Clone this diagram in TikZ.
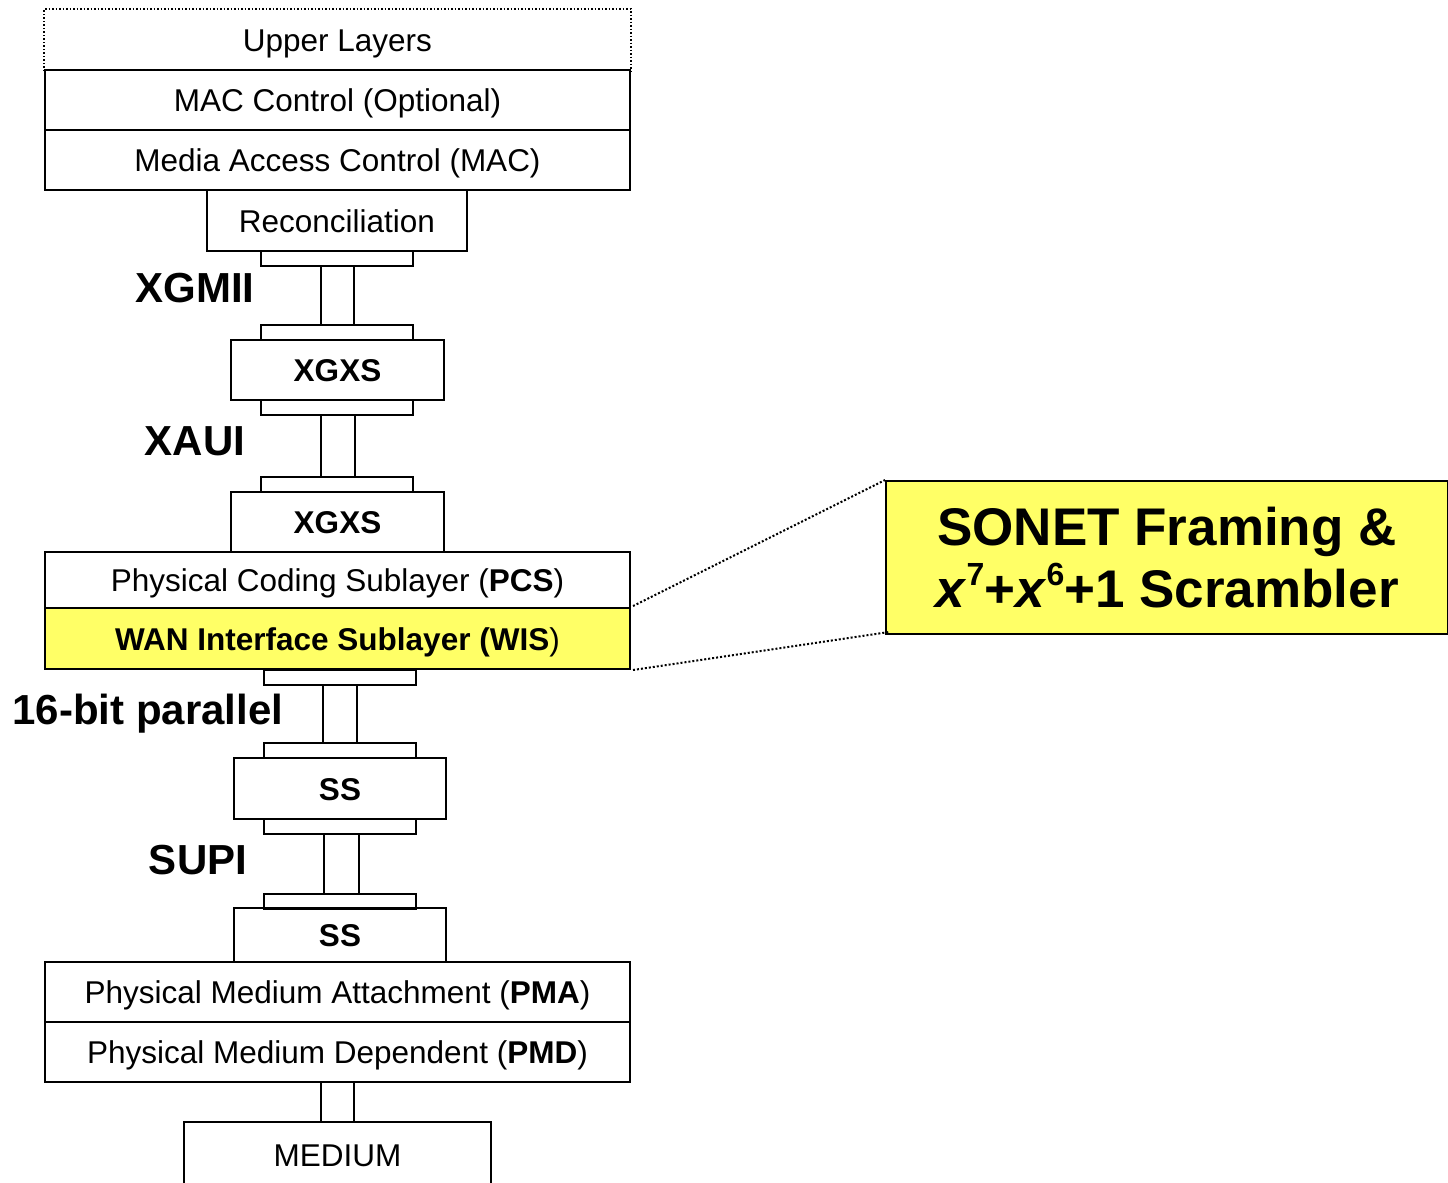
\documentclass[tikz,border=0pt]{standalone}
\usepackage{fontspec}
\setmainfont{Liberation Sans}
\usetikzlibrary{calc}
\definecolor{wisyellow}{RGB}{255,255,102}
\newcommand{\supnum}[1]{\raisebox{22pt}{\bfseries\fontsize{32pt}{32pt}\selectfont #1}}
\begin{document}
\begin{tikzpicture}[x=1pt,y=-1pt,
  box/.style={draw, line width=2pt, rectangle, inner sep=0pt, anchor=center,
    text height=23pt, text depth=0pt,
    font=\fontsize{31.5pt}{36pt}\selectfont},
  layer/.style={box, minimum width=585pt, minimum height=60pt},
  unit/.style={box, minimum width=213pt, minimum height=60pt, font=\bfseries\fontsize{31.5pt}{36pt}\selectfont},
  tab/.style={draw, line width=2pt, rectangle, inner sep=0pt, minimum width=152pt, minimum height=15pt},
  link/.style={line width=2pt},
  iface/.style={font=\bfseries\fontsize{42pt}{48pt}\selectfont, inner sep=0pt},
  zoomline/.style={dotted, line width=2pt},
]
\clip (0,0) rectangle (1448,1183);

% upper part of the stack
\node[layer, draw=none] (upper) at (337.5,40) {Upper Layers};
\draw[dotted, line width=1.5pt] (upper.south west) -- (upper.north west) -- (upper.north east) -- (upper.south east);
\node[layer] (macctl) at (337.5,100) {MAC Control (Optional)};
\node[layer] (mac) at (337.5,160) {Media Access Control (MAC)};
\node[box, minimum width=260pt, minimum height=61pt] (recon) at (337,220.5) {Reconciliation};

% XGMII
\node[tab] (t1) at (337,258.5) {};
\node[tab] (t2) at (337,332) {};
\draw[link] ($(t1.south)+(-16.5,0)$) -- ($(t2.north)+(-16.5,0)$);
\draw[link] ($(t1.south)+(16.5,0)$) -- ($(t2.north)+(16.5,0)$);
\node[iface] (xgmii) at (195,288) {XGMII};
\node[unit] (xgxsA) at (337.5,370) {XGXS};

% XAUI
\node[tab] (t3) at (337,407.5) {};
\node[tab] (t4) at (337,484) {};
\draw[link] ($(t3.south)+(-16.5,0)$) -- ($(t4.north)+(-16.5,0)$);
\draw[link] ($(t3.south)+(18,0)$) -- ($(t4.north)+(18,0)$);
\node[iface] (xaui) at (195,441) {XAUI};
\node[unit] (xgxsB) at (337.5,522) {XGXS};

% PCS / WIS
\node[layer, minimum height=56pt] (pcs) at (337.5,580) {Physical Coding Sublayer (\textbf{PCS})};
\node[layer, fill=wisyellow, minimum height=61pt, font=\bfseries\fontsize{31.5pt}{36pt}\selectfont] (wis) at (337.5,638.5) {WAN Interface Sublayer (WIS\textmd{)}};

% 16-bit parallel
\node[tab] (t5) at (340,677) {};
\node[tab] (t6) at (340,750) {};
\draw[link] ($(t5.south)+(-17,0)$) -- ($(t6.north)+(-17,0)$);
\draw[link] ($(t5.south)+(17,0)$) -- ($(t6.north)+(17,0)$);
\node[iface] (par) at (148,714) {16-bit parallel};
\node[unit, minimum width=212pt, minimum height=61pt] (ssA) at (340,788.5) {SS};

% SUPI
\node[tab] (t7) at (340,826.5) {};
\node[tab] (t8) at (340,901) {};
\draw[link] ($(t7.south)+(-16,0)$) -- ($(t8.north)+(-16,0)$);
\draw[link] ($(t7.south)+(19,0)$) -- ($(t8.north)+(19,0)$);
\node[iface] (supi) at (198,860) {SUPI};
\node[unit, minimum width=212pt, minimum height=54pt] (ssB) at (340,935) {SS};

% lower part of the stack
\node[layer] (pma) at (337.5,992) {Physical Medium Attachment (\textbf{PMA})};
\node[layer] (pmd) at (337.5,1052) {Physical Medium Dependent (\textbf{PMD})};
\node[box, minimum width=307pt, minimum height=66pt] (medium) at (337.5,1155) {MEDIUM};
\draw[link] ($(pmd.south)+(-16.5,0)$) -- ($(medium.north)+(-16.5,0)$);
\draw[link] ($(pmd.south)+(16.5,0)$) -- ($(medium.north)+(16.5,0)$);

% WIS detail callout
\node[draw, line width=2pt, inner sep=0pt, fill=wisyellow, minimum width=562pt, minimum height=153pt, align=center,
  font=\bfseries\fontsize{53pt}{62pt}\selectfont] (wisdetail) at (1167,557.5)
  {SONET Framing \&\\\textit{x}\supnum{7}+\textit{x}\supnum{6}+1 Scrambler};
\draw[zoomline] ($(pcs.south east)+(2,-3)$) -- (wisdetail.north west);
\draw[zoomline] ($(wis.south east)+(2,0)$) -- ($(wisdetail.south west)+(4,-3)$);
\end{tikzpicture}
\end{document}
